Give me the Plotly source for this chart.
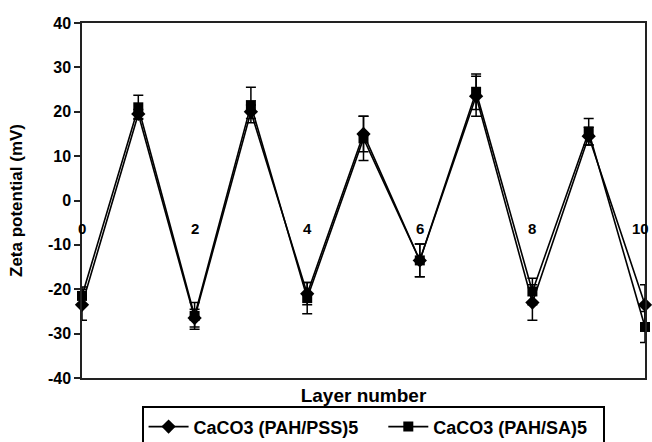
import plotly.graph_objects as go

layers = [0, 1, 2, 3, 4, 5, 6, 7, 8, 9, 10]

# CaCO3 (PAH/PSS)5 — diamonds
pss_zeta = [-23.5, 19.5, -26.5, 20.0, -21.0, 15.0, -13.5, 23.5, -23.0, 14.5, -23.5]
pss_err = [3.5, 1.0, 2.0, 1.5, 2.5, 4.0, 3.7, 4.5, 4.0, 2.0, 4.5]

# CaCO3 (PAH/SA)5 — squares
sa_zeta = [-21.5, 21.0, -26.0, 21.5, -22.0, 14.0, -13.5, 24.5, -20.5, 15.5, -28.5]
sa_err = [2.0, 2.7, 3.0, 4.0, 3.5, 5.0, 3.7, 4.0, 3.0, 3.0, 3.5]

x_tick_vals = [0, 2, 4, 6, 8, 10]
x_tick_text = ["0", "2", "4", "6", "8", "10"]
y_tick_vals = [-40, -30, -20, -10, 0, 10, 20, 30, 40]

FONT = "Liberation Sans, Arial, sans-serif"

fig = go.Figure()

fig.add_trace(go.Scatter(
    x=layers, y=pss_zeta, name="<b>CaCO3 (PAH/PSS)5</b>    ",
    mode="lines+markers",
    line=dict(color="black", width=1.6),
    marker=dict(symbol="diamond", size=11, color="black"),
    error_y=dict(type="data", array=pss_err, color="black", thickness=1.5, width=5),
    cliponaxis=False,
))
fig.add_trace(go.Scatter(
    x=layers, y=sa_zeta, name="<b>CaCO3 (PAH/SA)5</b>  ",
    mode="lines+markers",
    line=dict(color="black", width=1.6),
    marker=dict(symbol="square", size=10, color="black"),
    error_y=dict(type="data", array=sa_err, color="black", thickness=1.5, width=5),
    cliponaxis=False,
))

# category labels sit just under the zero line
for v, t in zip(x_tick_vals, x_tick_text):
    last = v == x_tick_vals[-1]
    fig.add_annotation(
        x=v, y=0, xref="x", yref="y", text="<b>%s</b>" % t,
        showarrow=False, yanchor="top", yshift=-17,
        xanchor="right" if last else "center", xshift=6 if last else 0,
        font=dict(family=FONT, size=15, color="black"),
    )

fig.update_layout(
    width=652, height=442,
    margin=dict(l=82, r=7, t=23, b=64, autoexpand=False),
    paper_bgcolor="white", plot_bgcolor="white",
    font=dict(family=FONT, size=14, color="black"),
    showlegend=True,
    legend=dict(
        orientation="h", x=0.517, xanchor="center", y=-0.08, yanchor="top",
        bordercolor="black", borderwidth=2, bgcolor="white",
        font=dict(family=FONT, size=18, color="black"),
        itemwidth=40, tracegroupgap=0,
    ),
    xaxis=dict(
        range=[0, 10], showgrid=False, zeroline=False,
        showline=True, linecolor="#222", linewidth=1.5, mirror=True,
        showticklabels=False, ticks="",
        title=dict(text="<b>Layer number</b>", font=dict(family=FONT, size=19), standoff=10),
    ),
    yaxis=dict(
        range=[-40, 40], tickvals=y_tick_vals,
        ticktext=["<b>%d</b>" % v for v in y_tick_vals],
        showgrid=False, zeroline=False,
        showline=True, linecolor="#222", linewidth=1.5, mirror=True,
        ticks="outside", ticklen=6, tickwidth=1.5, tickcolor="#222",
        tickfont=dict(family=FONT, size=16),
        title=dict(text="<b>Zeta potential (mV)</b>", font=dict(family=FONT, size=17), standoff=21),
    ),
)

fig.write_html("out.html")
